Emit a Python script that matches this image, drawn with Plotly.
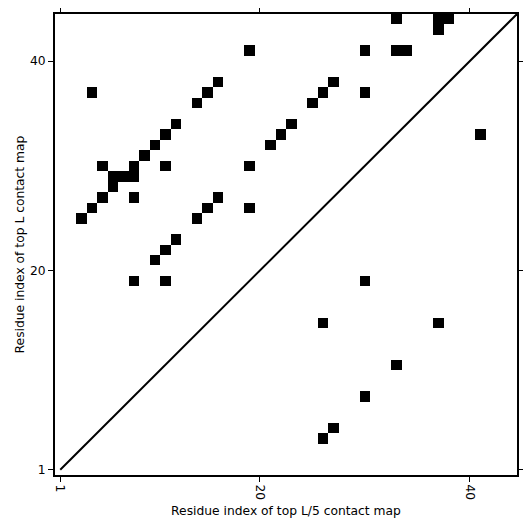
import plotly.graph_objects as go

L = 44
# top L contacts (i < j): shown above the diagonal
top_L_i = [4, 3, 4, 5, 6, 5, 6, 7, 8, 8, 9, 10, 11, 12, 11, 8, 14, 15, 16, 19, 19, 19,
           14, 15, 16, 10, 11, 12, 8, 11, 21, 22, 23, 33, 37, 38, 37, 30, 33, 34, 27, 26, 25, 30]
top_L_j = [37, 25, 26, 27, 28, 30, 29, 29, 29, 30, 31, 32, 33, 34, 30, 27, 36, 37, 38, 41, 30, 26,
           25, 26, 27, 21, 22, 23, 19, 19, 32, 33, 34, 44, 44, 44, 43, 41, 41, 41, 38, 37, 36, 37]
# top L/5 contacts: shown below the diagonal (transposed)
top_L5_i = [19, 15, 15, 11, 8, 5, 4, 33]
top_L5_j = [30, 26, 37, 33, 30, 27, 26, 41]

tick_vals = [1, 20, 40]
tick_text = ["1", "20", "40"]
diag = [1, L + 0.5]

idx = list(range(1, L + 1))
z = [[None] * L for _ in range(L)]
for i, j in zip(top_L_i, top_L_j):
    z[j - 1][i - 1] = 1
for i, j in zip(top_L5_i, top_L5_j):
    z[i - 1][j - 1] = 1

fig = go.Figure()
fig.add_trace(go.Heatmap(
    x=idx, y=idx, z=z,
    colorscale=[[0, "black"], [1, "black"]],
    showscale=False, hoverongaps=False,
))
fig.add_trace(go.Scatter(
    x=diag, y=diag, mode="lines",
    line=dict(color="black", width=2), showlegend=False,
))

font = dict(family="DejaVu Sans", size=12.3, color="black")
axis_common = dict(
    range=[0.5, L + 0.5],
    tickmode="array", tickvals=tick_vals, ticktext=tick_text,
    ticks="outside", ticklen=5, tickwidth=1, tickcolor="black",
    showline=True, linecolor="black", linewidth=2, mirror="allticks",
    showgrid=False, zeroline=False, automargin=False,
    tickfont=font,
)

fig.update_layout(
    width=523, height=523,
    margin=dict(l=47, r=14, t=6, b=56),
    plot_bgcolor="white", paper_bgcolor="white",
    font=font,
    xaxis=dict(**axis_common, tickangle=90,
               title=dict(text="Residue index of top L/5 contact map", font=font, standoff=7)),
    yaxis=dict(**axis_common,
               title=dict(text="Residue index of top L contact map", font=font, standoff=3)),
    showlegend=False,
)

fig.write_html("out.html")
